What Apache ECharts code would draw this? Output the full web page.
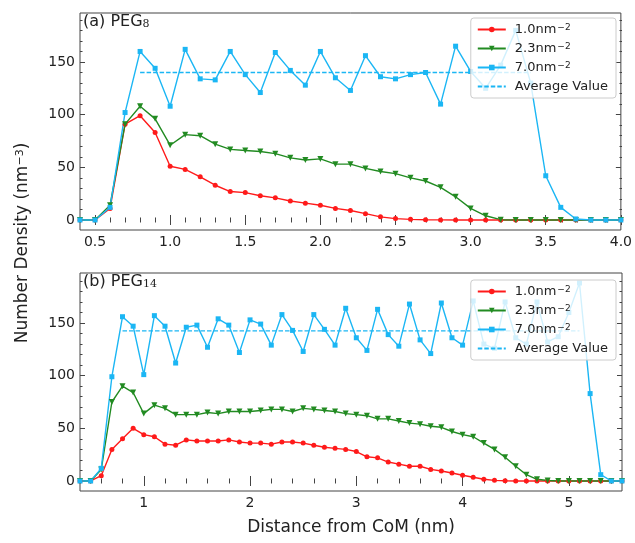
<!DOCTYPE html>
<html>
<head>
<meta charset="utf-8">
<script src="https://cdn.jsdelivr.net/npm/echarts@6/dist/echarts.min.js"></script>
<style>
html, body { margin: 0; padding: 0; background: #fff; }
#main { width: 635px; height: 543px; }
</style>
</head>
<body>
<div id="main"></div>
<script>
// distances (nm)
var distA = [0.4,0.5,0.6,0.7,0.8,0.9,1.0,1.1,1.2,1.3,1.4,1.5,1.6,1.7,1.8,1.9,2.0,2.1,2.2,2.3,2.4,2.5,2.6,2.7,2.8,2.9,3.0,3.1,3.2,3.3,3.4,3.5,3.6,3.7,3.8,3.9,4.0];
var distB = [0.4,0.5,0.6,0.7,0.8,0.9,1.0,1.1,1.2,1.3,1.4,1.5,1.6,1.7,1.8,1.9,2.0,2.1,2.2,2.3,2.4,2.5,2.6,2.7,2.8,2.9,3.0,3.1,3.2,3.3,3.4,3.5,3.6,3.7,3.8,3.9,4.0,4.1,4.2,4.3,4.4,4.5,4.6,4.7,4.8,4.9,5.0,5.1,5.2,5.3,5.4,5.5];

// (a) PEG8
var redA   = [0,0,11,91,99,83,51,48,41,33,27,26,23,21,18,16,14,11,9,6,3,1.3,0.6,0.3,0.1,0,0,0,0,0,0,0,0,0,0,0,0];
var greenA = [0,0,14,91,108,96,71,81,80,72,67,66,65,63,59,57,58,53,53,49,46,44,40,37,31,22,11,4,0.3,0,0,0,0,0,0,0,0];
var blueA  = [0,0,12,102,160,144,108,162,134,133,160,138,121,159,142,128,160,135,123,156,136,134,138,140,110,165,141,125,147,180,130,42,12,1,0,0,0];
var avgA = 140, avgRangeA = [0.8, 3.4];

// (b) PEG14
var redB   = [0,0,5,30,40,50,44,42,35,34,39,38,38,38,39,37,36,36,35,37,37,36,34,32,31,30,28,23,22,18,16,14,14,11,9.5,7.6,5.4,3.5,1.6,0.6,0.2,0,0,0,0,0,0,0,0,0,0,0];
var greenB = [0,0,11,75,90,84,64,72,69,63,63,63,65,64,66,66,66,67,68,68,66,69,68,67,66,64,63,62,59,59,57,55,54,52,51,47,44,42,36,30,22.5,14,6,1.6,0.5,0,0,0,0,0,0,0];
var blueB  = [0,0,12,99,156,147,101,157,147,112,146,148,127,154,148,122,153,149,129,158,143,123,158,144,129,164,136,124,163,139,128,168,134,121,169,136,129,171,130,126,170,136,130,170,132,137,160,188,83,6,0,0];
var avgB = 142.5, avgRangeB = [0.8, 5.1];

// ticks
var xTicksA = [0.5,1.0,1.5,2.0,2.5,3.0,3.5,4.0];
var xTicksB = [1,2,3,4,5];
var yTicks = [0,50,100,150];

var names = ['1.0nm^−2', '2.3nm^−2', '7.0nm^−2', 'Average Value'];
var RED = '#ff1a1a', GREEN = '#228b22', BLUE = '#1bb6f4';
var FONT = 'DejaVu Sans';
var FRAME = '#444';

function zip(xs, ys) {
    var out = [];
    for (var i = 0; i < xs.length; i++) out.push([xs[i], ys[i]]);
    return out;
}
function minors(min, max, step, majors) {
    var out = [];
    for (var i = 0; min + i * step <= max + 1e-9; i++) {
        var v = Math.round((min + i * step) * 100) / 100;
        if (majors.indexOf(v) < 0) out.push(v);
    }
    return out;
}

var rects = [
    {left: 80, top: 13, width: 542, height: 217},
    {left: 80, top: 273, width: 542, height: 218}
];
var panels = [
    {xmax: 4.0, ymin: -9.5, ymax: 196.5, xt: xTicksA, xStep: 0.1, fmt: function (v) { return v.toFixed(1); }},
    {xmax: 5.5, ymin: -9.5, ymax: 197.5, xt: xTicksB, xStep: 0.2, fmt: function (v) { return String(v); }}
];

var grids = [], xAxes = [], yAxes = [];
panels.forEach(function (p, k) {
    var r = rects[k];
    // one grid for the data and major ticks, one on top of it for minor ticks
    grids.push({left: r.left, top: r.top, width: r.width, height: r.height, show: true, borderColor: FRAME, borderWidth: 1, backgroundColor: 'transparent'});
    grids.push({left: r.left, top: r.top, width: r.width, height: r.height, show: false});
    var xMin = minors(0.4, p.xmax, p.xStep, p.xt);
    var yMin = minors(0, p.ymax, 10, yTicks);
    [0, 1].forEach(function (m) {
        var g = k * 2 + m;
        var len = m === 0 ? 5 : 2.5;
        ['bottom', 'top'].forEach(function (pos) {
            xAxes.push({
                gridIndex: g, type: 'value', position: pos, min: 0.4, max: p.xmax,
                axisLine: {show: false}, splitLine: {show: false},
                axisTick: {show: true, inside: true, length: len, customValues: m === 0 ? p.xt : xMin, lineStyle: {color: FRAME, width: 1}},
                axisLabel: {show: m === 0 && pos === 'bottom', customValues: p.xt, formatter: p.fmt, margin: 5, fontFamily: FONT, fontSize: 14, color: '#222'}
            });
        });
        ['left', 'right'].forEach(function (pos) {
            yAxes.push({
                gridIndex: g, type: 'value', position: pos, min: p.ymin, max: p.ymax,
                axisLine: {show: false}, splitLine: {show: false},
                axisTick: {show: true, inside: true, length: len, customValues: m === 0 ? yTicks : yMin, lineStyle: {color: FRAME, width: 1}},
                axisLabel: {show: m === 0 && pos === 'left', customValues: yTicks, margin: 5, fontFamily: FONT, fontSize: 14, color: '#222'}
            });
        });
    });
});
// name on the bottom x axis
xAxes[4].name = 'Distance from CoM (nm)';
xAxes[4].nameLocation = 'middle';
xAxes[4].nameGap = 28;
xAxes[4].nameTextStyle = {fontFamily: FONT, fontSize: 17, color: '#222'};

function lineSeries(name, axis, xs, ys, color, symbol, size, rotate) {
    return {
        type: 'line', name: name, xAxisIndex: axis, yAxisIndex: axis,
        data: zip(xs, ys), symbol: symbol, symbolSize: size, symbolRotate: rotate || 0,
        showAllSymbol: true,
        lineStyle: {color: color, width: 1.4}, itemStyle: {color: color}, z: 3
    };
}
function avgSeries(axis, range, val) {
    return {
        type: 'line', name: names[3], xAxisIndex: axis, yAxisIndex: axis,
        data: [[range[0], val], [range[1], val]], symbol: 'none',
        lineStyle: {color: BLUE, width: 1.4, type: [4.5, 2]}, itemStyle: {color: BLUE}, z: 3
    };
}

var series = [
    lineSeries(names[0], 0, distA, redA, RED, 'circle', 5),
    lineSeries(names[1], 0, distA, greenA, GREEN, 'triangle', 6, 180),
    lineSeries(names[2], 0, distA, blueA, BLUE, 'rect', 5),
    avgSeries(0, avgRangeA, avgA),
    lineSeries(names[0], 4, distB, redB, RED, 'circle', 5),
    lineSeries(names[1], 4, distB, greenB, GREEN, 'triangle', 6, 180),
    lineSeries(names[2], 4, distB, blueB, BLUE, 'rect', 5),
    avgSeries(4, avgRangeB, avgB)
];

function legendAt(top) {
    return {
        orient: 'vertical', right: 19, top: top,
        data: [names[0], names[1], names[2], {name: names[3], itemStyle: {opacity: 0}}],
        itemWidth: 28, itemHeight: 7, itemGap: 6, padding: [5, 8, 5, 6],
        backgroundColor: 'rgba(255,255,255,0.8)', borderColor: '#cccccc', borderWidth: 1, borderRadius: 3,
        selectedMode: false,
        formatter: function (n) { return n.replace(/\^(.*)$/, '{sup|$1}'); },
        textStyle: {fontFamily: FONT, fontSize: 13, color: '#222', padding: [0, 0, 0, 4],
            rich: {sup: {fontFamily: FONT, fontSize: 9, color: '#222', verticalAlign: 'top', padding: [0, 0, 0, 1]}}}
    };
}

var chart = echarts.init(document.getElementById('main'));
chart.setOption({
    animation: false,
    backgroundColor: '#fff',
    grid: grids,
    xAxis: xAxes,
    yAxis: yAxes,
    legend: [legendAt(18), legendAt(280)],
    series: series,
    graphic: [
        {type: 'text', left: 83, top: 14, z: 10, style: {text: '(a) PEG{s|8}', fontFamily: FONT, fontSize: 16, fill: '#222',
            rich: {s: {fontFamily: 'DejaVu Serif', fontSize: 11, fill: '#222', verticalAlign: 'bottom'}}}},
        {type: 'text', left: 83, top: 274, z: 10, style: {text: '(b) PEG{s|14}', fontFamily: FONT, fontSize: 16, fill: '#222',
            rich: {s: {fontFamily: 'DejaVu Serif', fontSize: 11, fill: '#222', verticalAlign: 'bottom'}}}},
        {type: 'text', x: 23, y: 243, rotation: Math.PI / 2, z: 10,
            style: {text: 'Number Density (nm{sup|−3})', fontFamily: FONT, fontSize: 17, fill: '#222', align: 'center', verticalAlign: 'middle',
                rich: {sup: {fontFamily: FONT, fontSize: 11, fill: '#222', verticalAlign: 'top'}}}}
    ]
});
</script>
</body>
</html>
